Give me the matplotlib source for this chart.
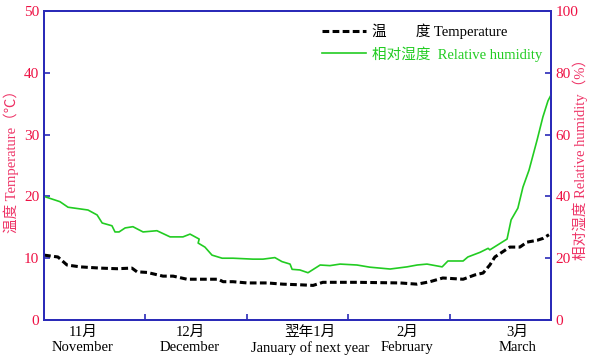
import matplotlib
matplotlib.use("Agg")
import matplotlib.pyplot as plt

plt.rcParams['font.family'] = ['Liberation Serif', 'Noto Sans CJK SC']
plt.rcParams['axes.unicode_minus'] = False

# days since the start of November (5 months ~ 150 days)
temp_day = [0, 4.1, 6.8, 10.7, 16.6, 21.6, 26.0, 27.5, 30.5, 35.2, 38.2, 42.3, 48.2,
            51.5, 53.0, 55.9, 60.1, 66.0, 70.7, 75.7, 79.6, 82.5, 92.6, 105.3, 110.4,
            114.2, 118.0, 124.0, 127.5, 129.9, 131.9, 133.4, 137.8, 140.8, 142.9,
            145.9, 147.6, 149.4]
temp_val = [10.5, 10.2, 8.9, 8.6, 8.4, 8.3, 8.4, 7.8, 7.7, 7.1, 7.1, 6.6, 6.6,
            6.6, 6.2, 6.2, 6.0, 6.0, 5.8, 5.7, 5.6, 6.1, 6.1, 6.0, 5.8,
            6.2, 6.8, 6.6, 7.3, 7.6, 8.9, 10.2, 11.8, 11.8, 12.6,
            12.9, 13.2, 13.8]

hum_day = [0, 4.7, 7.1, 13.0, 15.7, 17.2, 20.1, 21.0, 22.2, 24.0, 26.3, 29.3, 33.4,
           37.3, 41.1, 43.2, 45.9, 45.6, 47.6, 49.7, 52.7, 55.9, 61.8, 64.8, 68.3,
           70.4, 72.8, 73.4, 75.7, 78.1, 81.7, 84.6, 87.6, 92.6, 96.4, 102.4, 107.4,
           110.4, 113.3, 117.8, 119.5, 124.0, 125.4, 129.0, 131.4, 131.9, 137.0,
           138.2, 140.2, 141.7, 143.5, 145.9, 147.6, 149.1, 150.0]
hum_val = [40.0, 38.3, 36.5, 35.6, 34.0, 31.4, 30.5, 28.5, 28.5, 29.8, 30.2, 28.5, 28.9,
           26.9, 26.9, 27.8, 26.2, 24.9, 23.6, 21.0, 20.0, 20.0, 19.7, 19.7, 20.2,
           18.9, 18.1, 16.4, 16.2, 15.3, 17.8, 17.6, 18.1, 17.8, 17.1, 16.5, 17.2,
           17.8, 18.1, 17.2, 19.1, 19.1, 20.4, 21.9, 23.2, 22.7, 26.2,
           32.4, 36.2, 43.0, 48.5, 58.3, 65.7, 70.9, 72.8]

month_pos = [11.5, 43.2, 78.7, 107.4, 140.0]
month_labels = ['11月\nNovember', '12月\nDecember', '翌年1月\nJanuary of next year',
                '2月\nFebruary', '3月\nMarch']
month_edges = [30, 60, 90, 120]

blue = '#2a2ab8'
red = '#ee1144'
green = '#22cc22'

fig = plt.figure(figsize=(5.91, 3.57), dpi=100)
ax = fig.add_axes([0.0745, 0.1036, 0.8578, 0.8656])
ax2 = ax.twinx()

l1, = ax.plot(temp_day, temp_val, color='black', lw=2.2, ls=(0, (2.2, 1.1)))
l2, = ax2.plot(hum_day, hum_val, color=green, lw=1.2)

ax.set_xlim(0, 150)
ax.set_ylim(0, 50)
ax2.set_ylim(0, 100)
ax.set_yticks(range(0, 51, 10))
ax2.set_yticks(range(0, 101, 20))

ax.set_xticks(month_edges)
ax.set_xticklabels([])
ax.set_xticks(month_pos, minor=True)
ax.set_xticklabels(month_labels, minor=True, fontsize=10.5, linespacing=1.25)
ax.tick_params(axis='x', which='minor', length=0, pad=4)
ax.tick_params(axis='x', which='major', direction='in', length=4, color=blue, width=1.2)

ax.tick_params(axis='y', direction='in', length=4, color=blue, width=1.2,
               labelcolor=red, labelsize=11)
ax2.tick_params(axis='y', direction='in', length=4, color=blue, width=1.2,
                labelcolor=red, labelsize=11)

for a in (ax, ax2):
    for s in a.spines.values():
        s.set_color(blue)
        s.set_linewidth(1.3)

ax.set_ylabel('温度 Temperature（℃）', color='#ee3366', fontsize=10.5)
ax.yaxis.set_label_coords(-0.05, 0.525)
ax2.set_ylabel('相对湿度 Relative humidity（%）', color='#ee3366', fontsize=10.5,
               rotation=90)
ax2.yaxis.set_label_coords(1.043, 0.53)

leg = ax2.legend([l1, l2], ['温　　度 Temperature', '相对湿度  Relative humidity'],
                 loc='upper right', bbox_to_anchor=(1.008, 1.003), frameon=False,
                 fontsize=10.5, handlelength=3.0, handletextpad=0.4, labelspacing=0.5)
leg.get_texts()[1].set_color(green)

fig.savefig('out.png', dpi=100)
